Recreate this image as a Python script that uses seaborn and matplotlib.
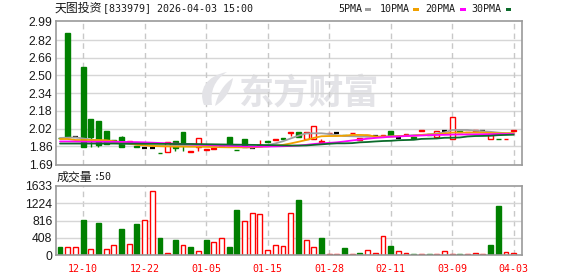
import numpy as np
import pandas as pd
import matplotlib
matplotlib.use("Agg")
import matplotlib.pyplot as plt
from matplotlib.patches import Rectangle, PathPatch
from matplotlib.path import Path
from matplotlib.transforms import Affine2D
import seaborn as sns

# ---------------- data ----------------
date_ticks = ["12-10", "12-22", "01-05", "01-15", "01-28", "02-11", "03-09", "04-03"]
date_tick_idx = [3, 11, 19, 27, 35, 43, 51, 59]

opens = [1.935, 2.885, 1.940, 2.577, 2.106, 2.088, 1.998, 1.916, 1.946, 1.900,
         1.858, 1.841, 1.841, 1.800, 1.805, 1.907, 1.986, 1.808, 1.856, 1.824,
         1.832, 1.866, 1.946, 1.826, 1.925, 1.840, 1.862, 1.905, 1.920, 1.932,
         1.983, 1.986, 1.925, 1.925, 1.900, 1.975, 1.978, 1.962, 1.975, 1.915,
         1.950, 1.952, 1.952, 1.998, 1.934, 1.960, 1.936, 1.996, 1.966, 1.946,
         1.996, 1.923, 1.990, 1.985, 1.997, 1.997, 1.923, 1.925, 1.921, 1.997]
closes = [1.930, 1.946, 1.940, 1.850, 1.946, 1.871, 1.877, 1.900, 1.856, 1.905,
          1.852, 1.841, 1.841, 1.796, 1.895, 1.847, 1.877, 1.815, 1.936, 1.828,
          1.847, 1.870, 1.871, 1.822, 1.856, 1.840, 1.865, 1.902, 1.923, 1.929,
          1.986, 1.946, 1.992, 2.043, 1.903, 1.977, 1.978, 1.958, 1.978, 1.931,
          1.952, 1.952, 1.955, 1.950, 1.934, 1.962, 1.932, 1.999, 1.964, 1.998,
          1.996, 2.122, 1.988, 1.987, 1.999, 1.997, 1.958, 1.922, 1.924, 2.000]
highs = [1.935, 2.885, 1.940, 2.577, 2.106, 2.088, 1.998, 1.916, 1.950, 1.905,
         1.858, 1.841, 1.841, 1.800, 1.895, 1.907, 1.986, 1.815, 1.936, 1.828,
         1.847, 1.870, 1.946, 1.826, 1.925, 1.840, 1.916, 1.905, 1.923, 1.932,
         1.986, 1.986, 1.992, 2.043, 1.928, 1.977, 1.978, 1.962, 1.978, 1.931,
         1.952, 1.952, 1.955, 1.998, 1.934, 1.962, 1.936, 1.999, 1.966, 1.998,
         1.996, 2.122, 1.990, 1.987, 1.999, 1.997, 1.958, 1.925, 1.924, 2.000]
lows = [1.930, 1.946, 1.940, 1.850, 1.850, 1.856, 1.877, 1.900, 1.856, 1.900,
        1.852, 1.841, 1.841, 1.796, 1.805, 1.820, 1.820, 1.808, 1.820, 1.824,
        1.832, 1.866, 1.871, 1.822, 1.856, 1.840, 1.862, 1.902, 1.920, 1.929,
        1.955, 1.946, 1.925, 1.925, 1.900, 1.975, 1.978, 1.958, 1.975, 1.915,
        1.950, 1.952, 1.952, 1.950, 1.934, 1.960, 1.932, 1.996, 1.964, 1.946,
        1.996, 1.923, 1.988, 1.985, 1.997, 1.997, 1.923, 1.922, 1.921, 1.997]

volumes = [188, 180, 180, 824, 133, 761, 133, 228, 612, 259,
           730, 840, 1510, 400, 47, 353, 228, 188, 94, 355,
           307, 393, 188, 1062, 795, 992, 968, 110, 228, 208,
           992, 1302, 347, 181, 402, 20, 20, 165, 20, 47,
           110, 47, 450, 213, 87, 47, 24, 24, 24, 24,
           87, 20, 20, 20, 47, 20, 237, 1160, 71, 55]
vol_dir = list("grrgrgrrgrgrrgrgrgrgrrggrrrrrrrgrrgrrgrgrrrgrrgrgrrrgrrrggrr")

ma5 = [1.935, 1.937, 1.940, 1.930, 1.920, 1.910, 1.900, 1.893, 1.886, 1.880,
       1.876, 1.871, 1.868, 1.862, 1.862, 1.865, 1.870, 1.871, 1.871, 1.870,
       1.868, 1.866, 1.862, 1.855, 1.852, 1.848, 1.855, 1.870, 1.885, 1.905,
       1.930, 1.955, 1.975, 1.977, 1.977, 1.970, 1.960, 1.952, 1.950, 1.948,
       1.946, 1.946, 1.946, 1.948, 1.950, 1.955, 1.960, 1.962, 1.966, 1.975,
       1.985, 2.007, 2.007, 2.007, 2.000, 1.995, 1.990, 1.983, 1.977, 1.977]
ma10 = [1.925, 1.925, 1.916, 1.916, 1.916, 1.916, 1.914, 1.905, 1.898, 1.886,
        1.873, 1.868, 1.862, 1.860, 1.858, 1.856, 1.856, 1.855, 1.855, 1.854,
        1.853, 1.851, 1.850, 1.850, 1.850, 1.851, 1.855, 1.858, 1.865, 1.872,
        1.885, 1.900, 1.916, 1.935, 1.950, 1.952, 1.952, 1.955, 1.962, 1.962,
        1.960, 1.948, 1.946, 1.948, 1.952, 1.952, 1.955, 1.962, 1.966, 1.968,
        1.975, 1.983, 1.983, 1.983, 1.983, 1.983, 1.980, 1.977, 1.977, 1.977]
ma20 = [1.903, 1.903, 1.902, 1.901, 1.900, 1.900, 1.900, 1.900, 1.899, 1.898,
        1.897, 1.895, 1.892, 1.889, 1.886, 1.883, 1.880, 1.876, 1.874, 1.872,
        1.868, 1.866, 1.864, 1.862, 1.858, 1.857, 1.857, 1.857, 1.858, 1.860,
        1.862, 1.866, 1.872, 1.880, 1.886, 1.890, 1.895, 1.903, 1.912, 1.920,
        1.928, 1.935, 1.940, 1.946, 1.948, 1.952, 1.955, 1.957, 1.960, 1.962,
        1.963, 1.965, 1.966, 1.966, 1.967, 1.968, 1.969, 1.970, 1.970, 1.970]
ma30 = [1.884, 1.884, 1.884, 1.884, 1.884, 1.884, 1.884, 1.884, 1.883, 1.883,
        1.883, 1.882, 1.882, 1.881, 1.881, 1.880, 1.880, 1.880, 1.879, 1.878,
        1.877, 1.876, 1.875, 1.874, 1.873, 1.872, 1.871, 1.870, 1.869, 1.867,
        1.866, 1.866, 1.867, 1.872, 1.877, 1.882, 1.886, 1.886, 1.888, 1.895,
        1.898, 1.903, 1.907, 1.909, 1.914, 1.916, 1.918, 1.926, 1.928, 1.930,
        1.936, 1.937, 1.939, 1.948, 1.952, 1.953, 1.955, 1.960, 1.962, 1.964]

price_ticks = [1.69, 1.86, 2.02, 2.18, 2.34, 2.50, 2.66, 2.82, 2.99]
vol_ticks = [0, 408, 816, 1224, 1633]

title_cn = "天图投资"
title_rest = "[833979] 2026-04-03 15:00"
vol_title = "成交量"
vol_title_rest = ":50"
legend_names = ["5PMA", "10PMA", "20PMA", "30PMA"]
watermark = "东方财富"

# ---------------- style ----------------
sns.set_theme(style="white")
plt.rcParams["font.family"] = ["DejaVu Sans", "Noto Sans CJK SC"]

RED = "#ff0000"
GREEN = "#008000"
MA_COLORS = ["#a0a0a0", "#f0a000", "#ff00ff", "#0b6b2b"]
GRID = "#d6d6d6"
VGRID = "#c8c8c8"
SPINE = "#9a9a9a"
TXT = "#1a1a1a"
WM = "#e3e3e7"
W, H = 578, 276

fig = plt.figure(figsize=(W / 100, H / 100), dpi=100)
fig.patch.set_facecolor("white")

def fx(px):
    return px / W

def fy(py):
    return 1 - py / H

ax = fig.add_axes([fx(56), fy(165), (522 - 56) / W, (165 - 21.3) / H])
axv = fig.add_axes([fx(56), fy(255), (522 - 56) / W, (255 - 186) / H])

n = len(closes)
idx = np.arange(n)
df = pd.DataFrame({"i": idx, "open": opens, "close": closes, "high": highs,
                   "low": lows, "vol": volumes, "dir": vol_dir,
                   "ma5": ma5, "ma10": ma10, "ma20": ma20, "ma30": ma30})

xlim = (-0.52, 60.08)
bw = 0.64

# watermark (text + simplified logo), drawn beneath the grid
ax.text(32.4, 2.339, watermark, color=WM, fontsize=25.3, fontweight="bold",
        family=["Noto Sans CJK SC"], ha="center", va="center", zorder=0)
pix = Affine2D().scale(1 / W, -1 / H).translate(0, 1) + fig.transFigure
leaf1 = Path([(204, 105), (198, 90), (206, 76), (227, 72), (214, 80), (210, 92), (212, 105), (204, 105)],
             [Path.MOVETO, Path.CURVE4, Path.CURVE4, Path.CURVE4, Path.CURVE4, Path.CURVE4, Path.CURVE4,
              Path.CLOSEPOLY])
leaf2 = Path([(215, 106), (218, 93), (224, 84), (233, 78), (231, 90), (225, 100), (215, 106), (215, 106)],
             [Path.MOVETO, Path.CURVE4, Path.CURVE4, Path.CURVE4, Path.CURVE4, Path.CURVE4, Path.CURVE4,
              Path.CLOSEPOLY])
for lp in (leaf1, leaf2):
    fig.patches.append(PathPatch(lp, transform=pix, facecolor=WM, edgecolor="none", zorder=0))

# ---------- price panel ----------
for t in price_ticks[1:-1]:
    ax.axhline(t, color=GRID, lw=1, zorder=0.5)
for t in date_tick_idx:
    ax.axvline(t, color=VGRID, lw=1, ls=(0, (4, 3)), zorder=0.5)
    axv.axvline(t, color=VGRID, lw=1, ls=(0, (4, 3)), zorder=0.5)

min_h = 0.007
for _, r in df.iterrows():
    o, c, h, l, i = r["open"], r["close"], r["high"], r["low"], r["i"]
    if c > o:
        col, face = RED, "white"
    elif c < o:
        col, face = GREEN, GREEN
    else:
        col, face = "#000000", "#000000"
    ax.vlines(i, l, h, color=col, lw=1, zorder=1)
    if c == o:
        ax.hlines(o, i - bw / 2, i + bw / 2, color=col, lw=1.6, zorder=2)
    else:
        lo, hi = min(o, c), max(o, c)
        ax.bar(i, max(hi - lo, min_h), bottom=lo, width=bw, facecolor=face,
               edgecolor=col, linewidth=1, zorder=2)

for name, color in zip(["ma5", "ma10", "ma20", "ma30"], MA_COLORS):
    sns.lineplot(data=df, x="i", y=name, color=color, lw=1.3, ax=ax, zorder=3)

ax.set_xlim(*xlim)
ax.set_ylim(1.69, 2.99)
ax.set_yticks(price_ticks)
ax.set_yticklabels([f"{t:.2f}" for t in price_ticks], family="Liberation Sans",
                   fontsize=8.7, color=TXT)
ax.set_xticks([])
ax.set_xlabel("")
ax.set_ylabel("")
ax.tick_params(axis="y", length=0, pad=2.5)

# ---------- volume panel ----------
for t in vol_ticks[1:-1]:
    axv.axhline(t, color=GRID, lw=1, zorder=0.5)

up = df[df["dir"] == "r"]
dn = df[df["dir"] == "g"]
axv.bar(up["i"], np.maximum(up["vol"], 14), width=bw, facecolor="white",
        edgecolor=RED, linewidth=1, zorder=2)
axv.bar(dn["i"], np.maximum(dn["vol"], 14), width=bw, facecolor=GREEN,
        edgecolor=GREEN, linewidth=1, zorder=2)

axv.set_xlim(*xlim)
axv.set_ylim(0, 1633)
axv.set_yticks(vol_ticks)
axv.set_yticklabels([str(t) for t in vol_ticks], family="Liberation Sans",
                    fontsize=8.7, color=TXT)
axv.set_xticks(date_tick_idx)
axv.set_xticklabels(date_ticks, family="DejaVu Sans Mono", fontsize=7.2, color=RED)
axv.tick_params(axis="y", length=0, pad=2.5)
axv.tick_params(axis="x", length=0, pad=6.5)
axv.set_xlabel("")
axv.set_ylabel("")

for a in (ax, axv):
    for s in a.spines.values():
        s.set_color(SPINE)
        s.set_linewidth(1.2)
        s.set_visible(True)
    a.grid(False)
    a.set_facecolor("white")

# ---------- header texts ----------
fig.text(fx(55), fy(8.5), title_cn, family=["Noto Sans CJK SC"], fontsize=8.6,
         color=TXT, ha="left", va="center")
fig.text(fx(103), fy(8.5), title_rest, family="DejaVu Sans Mono", fontsize=7.2,
         color=TXT, ha="left", va="center")

leg_x = [338, 380, 425.7, 471.7]
sw_x = [365, 413.3, 460, 505.7]
for name, lx, sx, color in zip(legend_names, leg_x, sw_x, MA_COLORS):
    fig.text(fx(lx), fy(9), name, family="DejaVu Sans Mono", fontsize=7.2,
             color=TXT, ha="left", va="center")
    fig.patches.append(Rectangle((fx(sx), fy(11)), 5.5 / W, 3.5 / H,
                                 transform=fig.transFigure, facecolor=color,
                                 edgecolor="none"))

fig.text(fx(57), fy(177.5), vol_title, family=["Noto Sans CJK SC"], fontsize=8.6,
         color=TXT, ha="left", va="center")
fig.text(fx(93.5), fy(177.5), vol_title_rest, family="DejaVu Sans Mono", fontsize=7.2,
         color=TXT, ha="left", va="center")

fig.savefig("out.png", dpi=100, facecolor="white")
